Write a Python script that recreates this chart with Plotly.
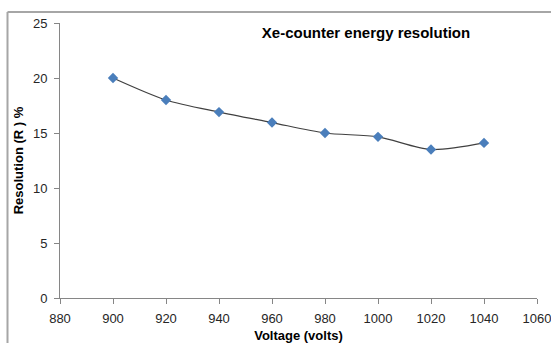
import plotly.graph_objects as go

voltage = [900, 920, 940, 960, 980, 1000, 1020, 1040]
resolution = [20.0, 18.0, 16.9, 15.95, 15.0, 14.65, 13.5, 14.1]

title_text = "Xe-counter energy resolution"
x_title = "Voltage (volts)"
y_title = "Resolution (R ) %"

font_family = "Liberation Sans, Arial, sans-serif"

fig = go.Figure()
fig.add_trace(go.Scatter(
    x=voltage, y=resolution,
    mode="lines+markers",
    line=dict(color="#404040", width=1.2, shape="spline", smoothing=0.8),
    marker=dict(symbol="diamond", size=8, color="#4a7ebb"),
    showlegend=False,
))

W, H = 551, 343
ml, mr, mt, mb = 60, 14, 23, 45

fig.update_layout(
    width=W, height=H,
    margin=dict(l=ml, r=mr, t=mt, b=mb),
    paper_bgcolor="white",
    plot_bgcolor="white",
    font=dict(family=font_family, size=13, color="#262626"),
    title=dict(
        text="<b>" + title_text + "</b>",
        x=366 / W, xanchor="center",
        y=1 - 33 / H, yanchor="middle",
        font=dict(size=15, color="#000000"),
    ),
    xaxis=dict(
        range=[880, 1060], dtick=20, tick0=880,
        showgrid=False, zeroline=False, automargin=False,
        showline=True, linecolor="#868686", linewidth=1,
        ticks="outside", ticklen=5, tickcolor="#868686",
        tickfont=dict(size=13), ticklabeloverflow="allow",
        ticklabelstandoff=3,
        title=dict(text="<b>" + x_title + "</b>", font=dict(size=13, color="#000000"), standoff=14),
    ),
    yaxis=dict(
        range=[0, 25], dtick=5,
        showgrid=False, zeroline=False, automargin=False,
        showline=True, linecolor="#868686", linewidth=1,
        ticks="outside", ticklen=5, tickcolor="#868686",
        tickfont=dict(size=13), ticklabeloverflow="allow",
        ticklabelstandoff=4,
        title=dict(text="<b>" + y_title + "</b>", font=dict(size=13, color="#000000"), standoff=6),
    ),
)

pw = W - ml - mr
ph = H - mt - mb
def px_x(p):
    return (p - ml) / pw
def px_y(p):
    return (H - mb - p) / ph

# outer chart border (cropped image frame)
fig.add_shape(type="line", xref="paper", yref="paper",
              x0=px_x(7.5), x1=px_x(551), y0=px_y(12), y1=px_y(12),
              line=dict(color="#a6a6a6", width=2))
fig.add_shape(type="line", xref="paper", yref="paper",
              x0=px_x(7.5), x1=px_x(7.5), y0=px_y(12), y1=px_y(343),
              line=dict(color="#a6a6a6", width=2))

fig.write_html("out.html")
